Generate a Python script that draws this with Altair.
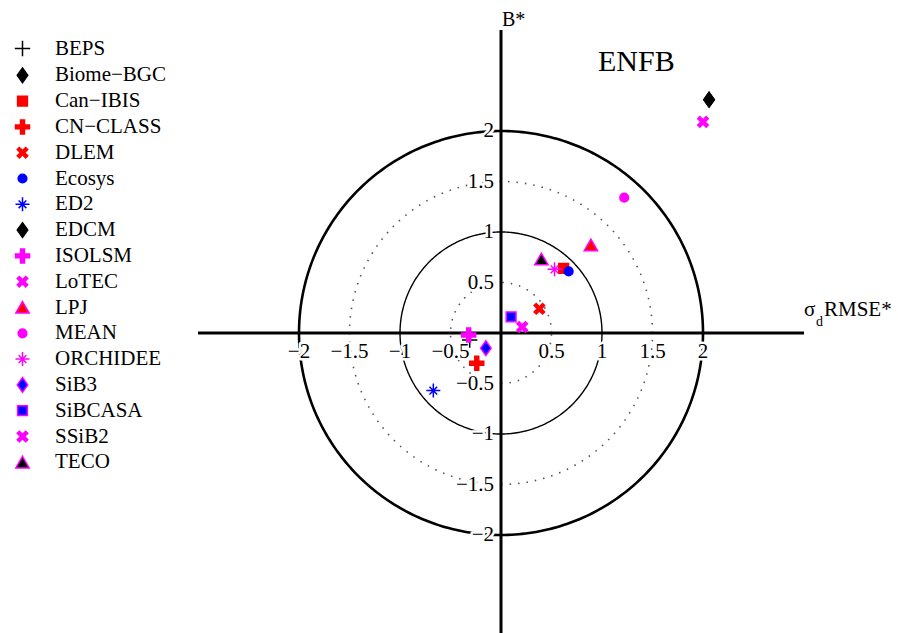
import numpy as np
import pandas as pd
import altair as alt

# Normalised target-diagram coordinates for each model (ENFB biome)
models = ["BEPS", "Biome−BGC", "Can−IBIS", "CN−CLASS", "DLEM", "Ecosys", "ED2",
          "EDCM", "ISOLSM", "LoTEC", "LPJ", "MEAN", "ORCHIDEE", "SiB3",
          "SiBCASA", "SSiB2", "TECO"]
rmse_vals = [-0.31, 2.06, 0.62, -0.24, 0.38, 0.67, -0.67,
             2.06, -0.32, 0.21, 0.89, 1.22, 0.53, -0.15,
             0.10, 2.00, 0.40]
bias_vals = [-0.07, 2.31, 0.64, -0.30, 0.24, 0.61, -0.57,
             2.31, -0.02, 0.06, 0.87, 1.34, 0.63, -0.15,
             0.16, 2.09, 0.73]

tick_values = [-2, -1.5, -1, -0.5, 0.5, 1, 1.5, 2]
solid_radii = [1, 2]
dotted_radii = [0.5, 1.5]

# Marker styling per model
BLACK, RED, BLUE, MAGENTA = "#000000", "#ff0000", "#0000ff", "#ff00ff"
fill_colors = [BLACK, BLACK, RED, RED, RED, BLUE, BLUE,
               BLACK, MAGENTA, MAGENTA, RED, MAGENTA, MAGENTA, BLUE,
               BLUE, MAGENTA, BLACK]
stroke_colors = [BLACK, BLACK, RED, RED, RED, BLUE, BLUE,
                 BLACK, MAGENTA, MAGENTA, MAGENTA, MAGENTA, MAGENTA, MAGENTA,
                 MAGENTA, MAGENTA, MAGENTA]

THIN_PLUS = "M-1.1,0H1.1M0,-1.1V1.1"
ASTERISK = "M-1,0H1M0,-1V1M-0.55,-0.55L0.55,0.55M-0.55,0.55L0.55,-0.55"
DIAMOND = "M0,-1.05L0.75,0L0,1.05L-0.75,0Z"
SQUARE = "M-0.7,-0.7H0.7V0.7H-0.7Z"
BOLD_PLUS = "M-0.28,-1H0.28V-0.28H1V0.28H0.28V1H-0.28V0.28H-1V-0.28H-0.28Z"
BOLD_X = ("M-0.75,-0.45L-0.45,-0.75L0,-0.3L0.45,-0.75L0.75,-0.45L0.3,0"
          "L0.75,0.45L0.45,0.75L0,0.3L-0.45,0.75L-0.75,0.45L-0.3,0Z")
DOT = "M-0.62,0A0.62,0.62,0,1,1,0.62,0A0.62,0.62,0,1,1,-0.62,0Z"
TRIANGLE = "M0,-0.85L0.95,0.8L-0.95,0.8Z"
shapes = [THIN_PLUS, DIAMOND, SQUARE, BOLD_PLUS, BOLD_X, DOT, ASTERISK,
          DIAMOND, BOLD_PLUS, BOLD_X, TRIANGLE, DOT, ASTERISK, DIAMOND,
          SQUARE, BOLD_X, TRIANGLE]

FONT = "Liberation Serif"


def fmt(v):
    return f"{v:g}".replace("-", "\u2212")


points = pd.DataFrame({"model": models, "x": rmse_vals, "y": bias_vals})


def ring_frame(radii):
    ang = np.linspace(0, 2 * np.pi, 361)
    frames = [pd.DataFrame({"r": r, "i": np.arange(ang.size),
                            "x": r * np.cos(ang), "y": r * np.sin(ang)})
              for r in radii]
    return pd.concat(frames, ignore_index=True)


xs = alt.Scale(domain=[-3, 3], nice=False, zero=False)
ys = alt.Scale(domain=[-3, 3], nice=False, zero=False)
X = lambda f="x": alt.X(f"{f}:Q", scale=xs, axis=None)
Y = lambda f="y": alt.Y(f"{f}:Q", scale=ys, axis=None)


def ring_layer(radii, **style):
    return alt.Chart(ring_frame(radii)).mark_line(**style).encode(
        x=X(), y=Y(), detail="r:N", order="i:Q")


ring_thin = ring_layer([solid_radii[0]], color="black", strokeWidth=1.4)
ring_thick = ring_layer([solid_radii[1]], color="black", strokeWidth=2.6)
ring_dotted = ring_layer(dotted_radii, color="#555555", strokeWidth=1.6,
                         strokeDash=[1.5, 7])

axes_df = pd.DataFrame({"x": [-3, 0], "x2": [3, 0], "y": [0, -3], "y2": [0, 3]})
axes = alt.Chart(axes_df).mark_rule(color="black", strokeWidth=3).encode(
    x=X(), x2="x2:Q", y=Y(), y2="y2:Q")

ticks = pd.DataFrame({"v": tick_values, "zero": 0.0,
                      "label": [fmt(v) for v in tick_values]})


def tick_text(horizontal, halo):
    style = dict(font=FONT, fontSize=21, color="black")
    if halo:
        style.update(stroke="white", strokeWidth=5, strokeJoin="round")
    if horizontal:
        mark = alt.Chart(ticks).mark_text(align="center", baseline="alphabetic",
                                          dy=25, **style)
        return mark.encode(x=X("v"), y=Y("zero"), text="label:N")
    mark = alt.Chart(ticks).mark_text(align="right", baseline="middle",
                                      dx=-7, **style)
    return mark.encode(x=X("zero"), y=Y("v"), text="label:N")


tick_layers = [tick_text(True, True), tick_text(False, True),
               tick_text(True, False), tick_text(False, False)]

legend = alt.Legend(title=None, orient="none", legendX=-186, legendY=8,
                    labelFont=FONT, labelFontSize=21, labelColor="black",
                    symbolSize=196, symbolStrokeWidth=1.5, symbolOpacity=1,
                    rowPadding=3.8, labelOffset=22, labelLimit=0, padding=0)

markers = alt.Chart(points).mark_point(
    size=196, strokeWidth=1.5, opacity=1, filled=True
).encode(
    x=X(), y=Y(),
    shape=alt.Shape("model:N", scale=alt.Scale(domain=models, range=shapes),
                    legend=legend),
    fill=alt.Fill("model:N", scale=alt.Scale(domain=models, range=fill_colors),
                  legend=legend),
    stroke=alt.Stroke("model:N", scale=alt.Scale(domain=models, range=stroke_colors),
                      legend=legend),
)

labels_df = pd.DataFrame({
    "x": [0, 3, 3, 3, 1.34],
    "y": [3, 0, 0, 0, 2.68],
    "t": ["B*", "\u03c3", "d", "RMSE*", "ENFB"],
})


def label(i, **style):
    return alt.Chart(labels_df.iloc[[i]]).mark_text(font=FONT, color="black", **style).encode(
        x=X(), y=Y(), text="t:N")


titles = [
    label(0, fontSize=20, align="left", baseline="middle", dx=1, dy=-10),
    label(1, fontSize=21, align="left", baseline="alphabetic", dx=0, dy=-17),
    label(2, fontSize=14, align="left", baseline="alphabetic", dx=12, dy=-7),
    label(3, fontSize=21, align="left", baseline="alphabetic", dx=20, dy=-17),
    label(4, fontSize=30, align="center", baseline="middle"),
]

chart = alt.layer(
    ring_dotted, ring_thin, ring_thick, axes, *tick_layers, markers, *titles
).properties(
    width=606, height=606,
    autosize=alt.AutoSizeParams(type="none"),
    padding={"left": 198, "top": 30, "right": 94, "bottom": 0},
    background="white",
).configure_view(stroke=None)

chart.save("out.html", embed_options={"renderer": "svg", "actions": False})
